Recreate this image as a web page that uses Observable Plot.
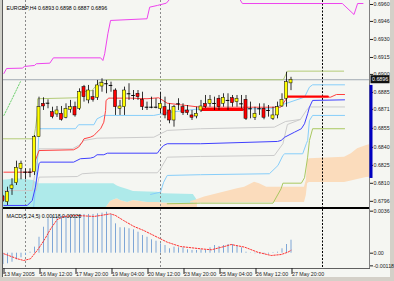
<!DOCTYPE html>
<html><head><meta charset="utf-8">
<script src="https://cdn.jsdelivr.net/npm/d3@7"></script>
<script src="https://cdn.jsdelivr.net/npm/@observablehq/plot@0.6"></script>
<style>
html,body{margin:0;padding:0;background:#d4d0c8;}
#wrap{position:relative;width:394px;height:281px;overflow:hidden;background:#d4d0c8;}
#wrap div{position:absolute;}
#main,#macd{left:0;}
#main{top:0;}
#macd{top:209px;}
</style></head><body>
<div id="wrap">
  <div style="left:0;top:0;width:390px;height:277px;background:#f5f6f2"></div>
  <div style="left:0;top:0;width:2px;height:277px;background:#cfcfc8"></div>
  <div style="left:2px;top:0;width:1px;height:277px;background:#5a5a5a"></div>
  <div style="left:369px;top:0;width:1px;height:268px;background:#808080"></div>
  <div style="left:3px;top:268px;width:367px;height:1px;background:#606060"></div>
  <div id="main"></div>
  <div style="left:3px;top:207px;width:366px;height:2px;background:#000"></div>
  <div id="macd"></div>
</div>
<script>
// ---------- data ----------
const symbol = "EURGBP,H4";
const timeLabelIdx = [0, 8, 16, 24, 32, 40, 48, 56, 64];
const timeLabels = ["13 May 2005", "16 May 12:00", "17 May 20:00", "19 May 04:00", "20 May 12:00", "23 May 20:00", "25 May 04:00", "26 May 12:00", "27 May 20:00"];
const priceTickPos = [0.67955, 0.68104, 0.68252, 0.68401, 0.68558, 0.68715, 0.68855, 0.69004, 0.69144, 0.69293, 0.69442, 0.69582];
const priceTickText = ["0.6796", "0.6810", "0.6825", "0.6840", "0.6855", "0.6871", "0.6885", "0.6900", "0.6915", "0.6930", "0.6946", "0.6960"];
const macdTickPos = [0.00382, 0, -0.00115];
const macdTickText = ["0.0036", "0.00", "-0.00118"];

const openP = [0.67995,0.67948,0.68059,0.68105,0.68224,0.68196,0.68196,0.68196,0.68485,0.68761,
0.68766,0.68692,0.68673,0.68679,0.68646,0.68712,0.68733,0.68720,0.68899,0.68789,
0.68816,0.68811,0.68904,0.68927,0.68913,0.68871,0.68720,0.68733,0.68844,0.68830,
0.68844,0.68794,0.68733,0.68733,0.68733,0.68720,0.68733,0.68706,0.68623,0.68761,
0.68733,0.68706,0.68665,0.68656,0.68706,0.68761,0.68761,0.68764,0.68803,0.68761,
0.68789,0.68808,0.68775,0.68761,0.68794,0.68720,0.68646,0.68720,0.68720,0.68706,
0.68637,0.68665,0.68739,0.68803,0.6893];
const highP = [0.68004,0.68072,0.68142,0.68287,0.68287,0.68224,0.68224,0.68499,0.68816,0.68811,
0.68794,0.68733,0.68739,0.68739,0.68761,0.68789,0.68775,0.68885,0.68913,0.68913,
0.68871,0.68954,0.68968,0.68954,0.68940,0.68885,0.68789,0.68899,0.68927,0.68871,
0.68871,0.68857,0.68775,0.68816,0.68803,0.68857,0.68816,0.68761,0.68747,0.68803,
0.68761,0.68747,0.68706,0.68733,0.68789,0.68830,0.68830,0.68816,0.68830,0.68844,
0.68844,0.68830,0.68830,0.68830,0.68830,0.68775,0.68733,0.68761,0.68761,0.68747,
0.68733,0.68775,0.68844,0.69022,0.6898];
const lowP = [0.67946,0.67921,0.68004,0.68086,0.68133,0.68133,0.68150,0.68169,0.68483,0.68706,
0.68720,0.68637,0.68648,0.68618,0.68637,0.68684,0.68651,0.68706,0.68775,0.68761,
0.68775,0.68789,0.68857,0.68844,0.68857,0.68665,0.68665,0.68665,0.68789,0.68789,
0.68789,0.68706,0.68706,0.68720,0.68720,0.68679,0.68637,0.68596,0.68568,0.68706,
0.68665,0.68665,0.68623,0.68637,0.68689,0.68723,0.68733,0.68706,0.68706,0.68733,
0.68706,0.68733,0.68733,0.68720,0.68623,0.68637,0.68623,0.68665,0.68629,0.68651,
0.68623,0.68637,0.68733,0.68733,0.6887];
const closeP = [0.67956,0.68031,0.68086,0.68232,0.68266,0.68196,0.68196,0.68485,0.68733,0.68739,
0.68766,0.68651,0.68706,0.68629,0.68720,0.68733,0.68665,0.68857,0.68816,0.68871,
0.68794,0.68913,0.68932,0.68927,0.68913,0.68733,0.68739,0.68871,0.68844,0.68830,
0.68816,0.68733,0.68733,0.68733,0.68733,0.68761,0.68665,0.68623,0.68733,0.68761,
0.68684,0.68684,0.68646,0.68679,0.68739,0.68733,0.68794,0.68764,0.68733,0.68811,
0.68789,0.68766,0.68803,0.68761,0.68637,0.68720,0.68679,0.68720,0.68646,0.68706,
0.68665,0.68733,0.68794,0.68940,0.6896];

// indicator lines: [bar index, price]
const magentaLine = [[0.2,0.69012],[0.8,0.69053],[4.3,0.69056],[4.8,0.69070],[7,0.69078],[7.4,0.69092],[10.4,0.69097],[11.2,0.69141],[21.7,0.69141],[22.2,0.69119],[22.6,0.69175],[23.3,0.69340],[23.9,0.69450],[32,0.69464],[32.6,0.69560],[34.3,0.69574],[36.3,0.69593],[38.3,0.69681],[51.7,0.69681],[53.2,0.69590],[75.4,0.69590],[78,0.69499],[78.8,0.69590],[80,0.69590]];
const chikouLine = [[0.2,0.68665],[2,0.68800],[4.0,0.68954]];
const oliveUpper = [[0.1,0.68472],[6.8,0.68472],[7.2,0.68555],[7.6,0.68665],[7.7,0.68803],[16.5,0.68811],[17.2,0.68857],[19.8,0.68871],[20.9,0.68921],[21.7,0.68948],[23.2,0.68960],[62.3,0.68960],[63.2,0.69031],[75.7,0.69031]];
const redLine = [[0.2,0.68196],[6.5,0.68196],[7.2,0.68293],[8,0.68375],[15.7,0.68381],[16.8,0.68403],[17.6,0.68444],[18,0.68472],[19.4,0.68485],[20.2,0.68499],[20.9,0.68527],[21.7,0.68555],[22.4,0.68609],[22.8,0.68706],[22.9,0.68789],[23.5,0.68808],[28.3,0.68808],[32,0.68803],[34.6,0.68811],[36.5,0.68766],[39.4,0.68753],[43.9,0.68733],[61.7,0.68733],[63.2,0.68816],[72.8,0.68816],[74.1,0.68838],[75.9,0.68838]];
const redThickA = [[44.3,0.68714],[53.2,0.68714]];
const redThickB = [[63.3,0.68822],[72.2,0.68822]];
const lightBlueUpper = [[6.8,0.67904],[7.4,0.68128],[7.8,0.68375],[8,0.68555],[16.1,0.68555],[16.8,0.68588],[20.2,0.68588],[20.9,0.68637],[22.4,0.68665],[33.5,0.68665],[35.4,0.68679],[37.2,0.68692],[43.9,0.68720],[59.4,0.68720],[67,0.68816],[68.1,0.68899],[68.8,0.68918],[75.9,0.68918]];
const blueLine = [[0.2,0.67921],[5.4,0.67921],[6.5,0.67962],[7.2,0.68072],[8,0.68266],[8.3,0.68279],[15.7,0.68279],[17.2,0.68307],[19.4,0.68312],[20.2,0.68320],[20.9,0.68340],[22.4,0.68340],[23.2,0.68353],[34.3,0.68353],[35,0.68389],[35.7,0.68417],[36.5,0.68431],[43.9,0.68431],[61,0.68450],[61.8,0.68458],[62.6,0.68485],[64.8,0.68527],[66.3,0.68555],[67,0.68596],[67.7,0.68679],[68.1,0.68733],[68.8,0.68789],[75.9,0.68794]];
const grayUpper = [[0.2,0.68044],[6.5,0.68044],[7.2,0.68210],[8,0.68389],[15.4,0.68389],[16.8,0.68417],[18,0.68458],[20.9,0.68477],[33.5,0.68485],[35,0.68513],[36.5,0.68541],[43.9,0.68555],[60.3,0.68568],[62.8,0.68615],[66.1,0.68632],[67.4,0.68706],[68.1,0.68735],[75.9,0.68735]];
const grayLower = [[7.4,0.68044],[8,0.68155],[16.5,0.68160],[17.6,0.68183],[20.9,0.68191],[34.3,0.68191],[35,0.68224],[36.5,0.68320],[43.9,0.68326],[60.3,0.68334],[62.2,0.68431],[63.2,0.68590],[66.1,0.68632]];
const lightBlueLower = [[32.8,0.68012],[35,0.68031],[35.7,0.68113],[36.5,0.68169],[43.9,0.68175],[59.2,0.68183],[61.1,0.68251],[62.2,0.68334],[62.6,0.68348],[66.6,0.68348],[67.4,0.68431],[67.7,0.68458],[68.1,0.68623],[68.8,0.68665],[75.9,0.68665]];
const oliveLower = [[36.5,0.67935],[43.9,0.67940],[60,0.67940],[61.8,0.68059],[62.2,0.68105],[66.3,0.68105],[67,0.68150],[67.7,0.68320],[68.1,0.68458],[68.8,0.68555],[75.9,0.68555]];

// clouds: [bar index, upper edge, lower edge]
const priceFloor = 0.67896;
const cyanCloud = [[0,0.68128,0.67896],[3.2,0.68142,0.67896],[6.8,0.68128,0.67896],[7.7,0.68100,0.67896],[22.8,0.68100,0.67896],[23.9,0.68100,0.67954],[24.6,0.68100,0.67966],[25.4,0.68082,0.67976],[26.1,0.68072,0.67962],[27.7,0.68053,0.67946],[29,0.68037,0.67962],[30.6,0.68034,0.67954],[32.1,0.68033,0.67946],[34.3,0.68031,0.67946],[35.7,0.68018,0.67942],[42.3,0.68012,0.67937],[43.2,0.67962,0.67954]];
const peachCloud = [[41.7,0.67954,0.67942],[42.6,0.67962,0.67942],[44.8,0.67990,0.67942],[52.1,0.68059,0.67946],[53.7,0.68072,0.67946],[55.9,0.68113,0.67946],[57,0.68100,0.67946],[58.6,0.68072,0.67946],[67,0.68072,0.67946],[67.4,0.68128,0.68004],[67.7,0.68293,0.68103],[68.1,0.68307,0.68111],[75.9,0.68320,0.68111],[77.4,0.68348,0.68123],[78.8,0.68389,0.68136],[80.8,0.68417,0.68152],[81.7,0.68425,0.68156]];
const axisBar = {lo: 0.68144, hi: 0.68913};

const weekSeparators = [5, 35];
const shiftMarker = [71];

const macdHist = [-0.00103,-0.00096,-0.00082,-0.00060,-0.00042,-0.00021,0.00009,0.00055,0.00145,0.00236,
0.00313,0.00343,0.00334,0.00334,0.00327,0.00327,0.00334,0.00343,0.00352,0.00352,
0.00352,0.00358,0.00364,0.00373,0.00352,0.00267,0.00231,0.00231,0.00222,0.00213,
0.00191,0.00161,0.00145,0.00122,0.00109,0.00085,0.00070,0.00040,0.00055,0.00049,
0.00049,0.00031,0.00025,0.00025,0.00031,0.00025,0.00049,0.00070,0.00061,0.00070,
0.00079,0.00079,0.00061,0.00049,0.00009,0.00003,-0.00005,-0.00008,-0.00010,-0.00008,
0.00005,0.00009,0.00040,0.00079,0.00118];
const macdSignal = [[0.2,-0.00005],[3.2,-0.00051],[4.6,-0.00066],[6.1,-0.00051],[7.6,0.00025],[9.1,0.00115],[10.6,0.00222],[12,0.00304],[13.5,0.00334],[16.5,0.00343],[20.2,0.00334],[21.7,0.00343],[23.9,0.00358],[25,0.00343],[26.8,0.00297],[29.1,0.00243],[31.3,0.00206],[34.3,0.00145],[36.5,0.00100],[39.4,0.00061],[43.9,0.00040],[46.3,0.00031],[49.2,0.00061],[50.7,0.00079],[53.7,0.00055],[56.6,0.00009],[59.6,-0.00021],[61.8,-0.00012],[63.3,0.00009],[64,0.00026]];

// ---------- build ----------
const FONT = "'Liberation Sans', Arial, sans-serif";
const FS = 5.3;
const candles = openP.map((o, i) => ({i, o, h: highP[i], l: lowP[i], c: closeP[i]}));
const bodies = candles.filter(d => d.o !== d.c);
const dojis = candles.filter(d => d.o === d.c);
const last = candles[candles.length - 1];
const lastClose = last.c;
const title = `${symbol} ${last.o.toFixed(4)} ${last.h.toFixed(4)} ${last.l.toFixed(4)} ${last.c.toFixed(4)}`;
const macdTitle = `MACD(5,24,5) ${macdHist[macdHist.length-1].toFixed(5)} ${macdSignal[macdSignal.length-1][1].toFixed(5)}`;
const priceLabel = new Map(priceTickPos.map((v, i) => [v, priceTickText[i]]));
const macdLabel = new Map(macdTickPos.map((v, i) => [v, macdTickText[i]]));
const timeLabel = new Map(timeLabelIdx.map((v, i) => [v, timeLabels[i]]));
const peachBumps = cyanCloud.filter(d => d[0] >= 22.8).map(d => [d[0], d[2], priceFloor]);

const xScale = {domain: [0, 81.444], range: [2.5, 369], axis: null};
const L = (data, stroke, extra = {}) => Plot.line(data, {x: d => d[0], y: d => d[1], stroke, strokeWidth: 1, clip: true, ...extra});
const A = (data, fill) => Plot.areaY(data, {x: d => d[0], y1: d => d[2], y2: d => d[1], fill, clip: true});

function axisDecor(index, scales, values, dims) {
  const g = d3.create("svg:g");
  const x0 = dims.width - dims.marginRight;
  const yHi = scales.y(axisBar.hi), yLo = scales.y(axisBar.lo);
  g.append("rect").attr("x", x0 + 0.5).attr("y", yHi).attr("width", 3).attr("height", yLo - yHi).attr("fill", "#0000c0");
  const yc = scales.y(lastClose);
  g.append("rect").attr("x", x0 + 1.5).attr("y", yc - 4).attr("width", 19).attr("height", 8).attr("fill", "#111");
  g.append("text").attr("x", x0 + 3).attr("y", yc).attr("dy", "0.35em").attr("fill", "#fff")
    .attr("text-anchor", "start").attr("font-size", FS).attr("font-family", FONT).text(lastClose.toFixed(4));
  return g.node();
}

const mainPlot = Plot.plot({
  width: 394, height: 207, marginLeft: 3, marginRight: 25, marginTop: 0, marginBottom: 0,
  x: xScale,
  y: {domain: [0.67904, 0.69615], range: [207, 0], axis: null},
  style: {background: "transparent", color: "#222", fontFamily: FONT, fontSize: FS + "px"},
  marks: [
    A(peachBumps, "#fbdcbc"),
    A(cyanCloud, "#aeeaea"),
    A(peachCloud, "#fbdcbc"),
    Plot.ruleX(weekSeparators, {x: d => d, stroke: "#8a8a8a", strokeDasharray: "2,2", clip: true}),
    Plot.ruleX(shiftMarker, {x: d => d, stroke: "#000", strokeDasharray: "2,1.5", clip: true}),
    Plot.ruleY([lastClose], {y: d => d, stroke: "#a0a9b2"}),
    L(grayLower, "#cccccc"),
    L(grayUpper, "#cccccc"),
    L(oliveLower, "#a9c860"),
    L(lightBlueLower, "#87cefa"),
    L(lightBlueUpper, "#87cefa"),
    L(blueLine, "#4040ff"),
    L(oliveUpper, "#b4cc78"),
    L(redLine, "#ff4040"),
    L(redThickA, "#ff0000", {strokeWidth: 3}),
    L(redThickB, "#ff0000", {strokeWidth: 2}),
    L(magentaLine, "#ee44ee"),
    L(chikouLine, "#70d070", {strokeDasharray: "1.5,1.5"}),
    Plot.ruleX(candles, {x: "i", y1: "l", y2: "h", stroke: "#000", strokeWidth: 0.8, clip: true}),
    Plot.rect(bodies, {x1: d => d.i - 0.34, x2: d => d.i + 0.34, y1: "o", y2: "c",
      fill: d => d.c > d.o ? "#ffff00" : "#ff0000", stroke: "#000", strokeWidth: 0.5, clip: true}),
    Plot.ruleY(dojis, {x1: d => d.i - 0.4, x2: d => d.i + 0.4, y: "o", stroke: "#000", strokeWidth: 1, clip: true}),
    Plot.axisY({anchor: "right", ticks: priceTickPos, tickFormat: d => priceLabel.get(d), tickSize: 3, tickPadding: 1, fontSize: FS, label: null}),
    Plot.text([title], {text: d => d, frameAnchor: "top-left", dx: 3, dy: 6, textAnchor: "start", fontSize: FS, fill: "#000"}),
    axisDecor
  ]
});
document.getElementById("main").appendChild(mainPlot);

const macdPlot = Plot.plot({
  width: 394, height: 68, marginLeft: 3, marginRight: 25, marginTop: 0, marginBottom: 9,
  x: xScale,
  y: {domain: [-0.001391, 0.003973], range: [59, 0], axis: null},
  style: {background: "transparent", color: "#222", fontFamily: FONT, fontSize: FS + "px", overflow: "visible"},
  marks: [
    Plot.ruleX(weekSeparators, {x: d => d, stroke: "#8a8a8a", strokeDasharray: "2,2", clip: true}),
    Plot.ruleX(shiftMarker, {x: d => d, stroke: "#000", strokeDasharray: "2,1.5", clip: true}),
    Plot.ruleX(macdHist, {x: (d, i) => i, y1: 0, y2: d => d, stroke: "#7ea6d6", strokeWidth: 1, clip: true}),
    Plot.line(macdSignal, {x: d => d[0], y: d => d[1], stroke: "#ff3030", strokeWidth: 1, strokeDasharray: "1.5,1.5", clip: true}),
    Plot.axisY({anchor: "right", ticks: macdTickPos, tickFormat: d => macdLabel.get(d), tickSize: 3, tickPadding: 1, fontSize: FS, label: null}),
    Plot.axisX({anchor: "bottom", ticks: timeLabelIdx, tickFormat: d => timeLabel.get(d), tickSize: 6, tickPadding: -2, textAnchor: "start", dx: 1, fontSize: FS, label: null}),
    Plot.text([macdTitle], {text: d => d, frameAnchor: "top-left", dx: 3, dy: 5, textAnchor: "start", fontSize: FS, fill: "#000"})
  ]
});
document.getElementById("macd").appendChild(macdPlot);
</script>
</body></html>
